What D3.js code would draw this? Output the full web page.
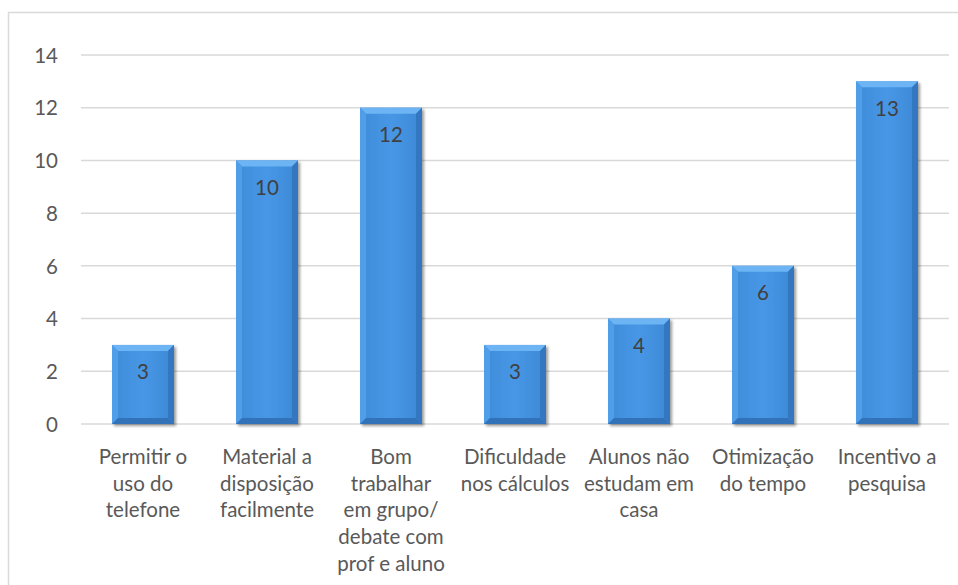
<!DOCTYPE html>
<html><head><meta charset="utf-8">
<script src="https://cdn.jsdelivr.net/npm/d3@7"></script>
<style>html,body{margin:0;padding:0;background:#fff;}svg{display:block;font-family:Lato,"Open Sans",sans-serif;}</style>
</head><body>
<script>
const categories = [
  ["Permitir o","uso do","telefone"],
  ["Material a","disposição","facilmente"],
  ["Bom","trabalhar","em grupo/","debate com","prof e aluno"],
  ["Dificuldade","nos cálculos"],
  ["Alunos não","estudam em","casa"],
  ["Otimização","do tempo"],
  ["Incentivo a","pesquisa"]
];
const values = [3, 10, 12, 3, 4, 6, 13];
const yTicks = [0, 2, 4, 6, 8, 10, 12, 14];

const W = 958, H = 585;
const svg = d3.select("body").append("svg").attr("width", W).attr("height", H);
const defs = svg.append("defs");
const g1 = defs.append("linearGradient").attr("id","barg").attr("x1","0").attr("x2","1").attr("y1","0").attr("y2","0");
g1.append("stop").attr("offset","0").attr("stop-color","#3f8cd9");
g1.append("stop").attr("offset","0.5").attr("stop-color","#4797e6");
g1.append("stop").attr("offset","1").attr("stop-color","#3d88d5");
const f = defs.append("filter").attr("id","sh").attr("x","-20%").attr("y","-20%").attr("width","140%").attr("height","140%");
f.append("feGaussianBlur").attr("in","SourceAlpha").attr("stdDeviation","1.5");
f.append("feOffset").attr("dx","2").attr("dy","1.5").attr("result","b");
f.append("feComponentTransfer").append("feFuncA").attr("type","linear").attr("slope","0.4");
const m = f.append("feMerge"); m.append("feMergeNode"); m.append("feMergeNode").attr("in","SourceGraphic");

// border
svg.append("rect").attr("x",8.5).attr("y",12.5).attr("width",W).attr("height",H).attr("fill","none").attr("stroke","#d9d9d9").attr("stroke-width",1.5);

const x = d3.scaleBand().domain(d3.range(values.length)).range([81, 949]).paddingInner(0.5).paddingOuter(0.25);
const y = d3.scaleLinear().domain([0, 14]).range([424, 55]);

// grid
svg.append("g").selectAll("line").data(yTicks).join("line")
  .attr("x1",81).attr("x2",949).attr("y1",d=>y(d)).attr("y2",d=>y(d))
  .attr("stroke","#d9d9d9").attr("stroke-width",1.5);

// y axis
const yAxis = d3.axisLeft(y).tickValues(yTicks).tickSize(0).tickPadding(0);
const ya = svg.append("g").attr("transform","translate(58,0)").call(yAxis);
ya.select(".domain").remove();
ya.selectAll("text").attr("fill","#595959").style("font-size","20.5px").style("font-family","Lato,'Open Sans',sans-serif").attr("dy","0.35em");

// bars
const bw = x.bandwidth(), bev = 6;
const bars = svg.append("g").selectAll("g").data(values).join("g").attr("filter","url(#sh)");
bars.append("rect").attr("x",(d,i)=>x(i)).attr("y",d=>y(d)).attr("width",bw).attr("height",d=>y(0)-y(d)).attr("fill","url(#barg)");
// bevels
bars.append("path").attr("d",(d,i)=>{const x0=x(i),x1=x0+bw,t=y(d);return `M${x0},${t}L${x1},${t}L${x1-bev},${t+bev}L${x0+bev},${t+bev}Z`;}).attr("fill","#6cb4f4");
bars.append("path").attr("d",(d,i)=>{const x0=x(i),t=y(d),b=y(0);return `M${x0},${t}L${x0+bev},${t+bev}L${x0+bev},${b-bev}L${x0},${b}Z`;}).attr("fill","#519ee8");
bars.append("path").attr("d",(d,i)=>{const x1=x(i)+bw,t=y(d),b=y(0);return `M${x1},${t}L${x1-bev},${t+bev}L${x1-bev},${b-bev}L${x1},${b}Z`;}).attr("fill","#3377c0");
bars.append("path").attr("d",(d,i)=>{const x0=x(i),x1=x0+bw,b=y(0);return `M${x0},${b}L${x0+bev},${b-bev}L${x1-bev},${b-bev}L${x1},${b}Z`;}).attr("fill","#3272b8");

// value labels
svg.append("g").selectAll("text").data(values).join("text")
  .attr("x",(d,i)=>x(i)+bw/2).attr("y",d=>y(d)+27).attr("text-anchor","middle").attr("dy","0.35em")
  .attr("fill","#404040").style("font-size","20.5px").text(d=>d);

// x labels
const xl = svg.append("g").selectAll("text").data(categories).join("text")
  .attr("x",(d,i)=>x(i)+bw/2).attr("y",457).attr("text-anchor","middle")
  .attr("fill","#595959").style("font-size","20.5px");
xl.selectAll("tspan").data(d=>d).join("tspan")
  .attr("x",function(){return this.parentNode.getAttribute("x");})
  .attr("y",(d,j)=>457 + j*26.6).attr("dy","0.35em").text(d=>d);
</script>
</body></html>
